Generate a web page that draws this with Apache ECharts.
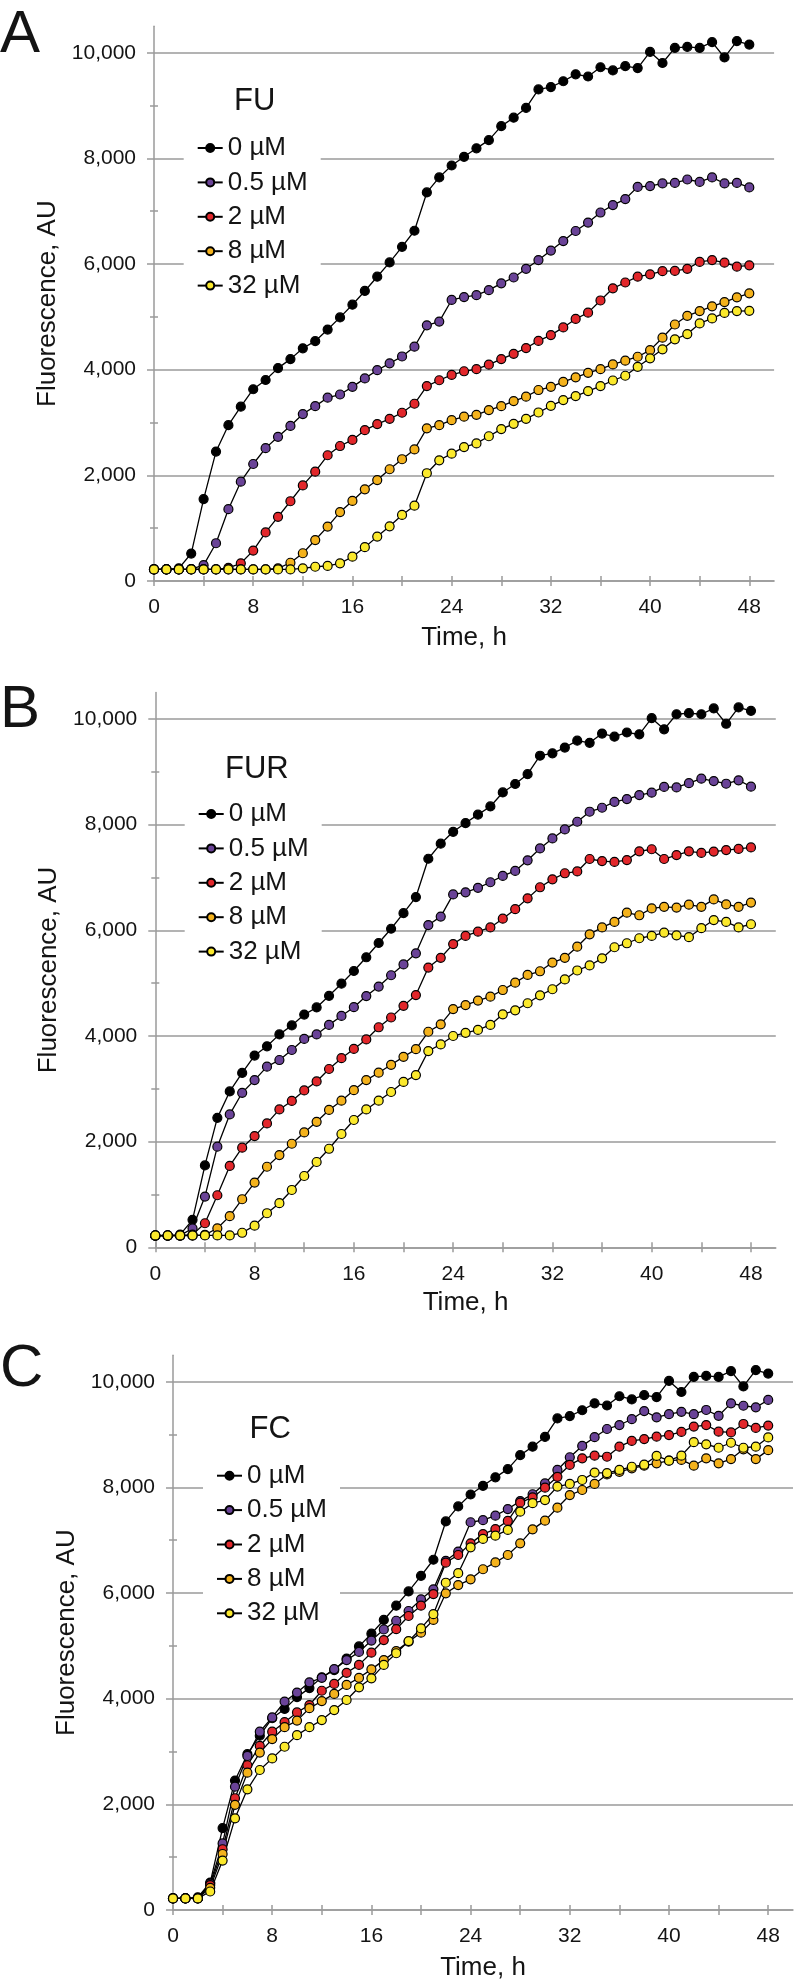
<!DOCTYPE html>
<html>
<head>
<meta charset="utf-8">
<title>Fluorescence time courses</title>
<script src="https://cdn.jsdelivr.net/npm/echarts@6/dist/echarts.min.js"></script>
<style>
  html, body { margin: 0; padding: 0; background: #fff; }
  #chart { width: 796px; height: 1985px; }
</style>
</head>
<body>
<div id="chart"></div>
<script>
// sampling times, h
var hours = [0,1,2,3,4,5,6,7,8,9,10,11,12,13,14,15,16,17,18,19,20,21,22,23,24,
             25,26,27,28,29,30,31,32,33,34,35,36,37,38,39,40,41,42,43,44,45,46,47,48];
var doses = ['0 µM', '0.5 µM', '2 µM', '8 µM', '32 µM'];
var doseColors = ['#000000', '#6a4397', '#e2272b', '#f4b21c', '#fbe92c'];
var yTickLabels = [0, 2000, 4000, 6000, 8000, 10000];
var xTickLabels = [0, 8, 16, 24, 32, 40, 48];

// 0 µM control, same curve in all three panels
var control = [220,220,240,520,1550,2450,2950,3300,3630,3805,4030,4200,4405,4540,4760,4990,5230,5490,5760,6030,6325,6630,7355,7640,7865,
               8030,8190,8345,8610,8770,8955,9305,9350,9460,9590,9550,9725,9665,9745,9710,10015,9805,10090,10110,10090,10200,9910,10220,10155];

// A - FU
var fu05 = [220,220,220,225,300,715,1360,1880,2215,2515,2730,2935,3160,3310,3470,3530,3675,3835,3990,4120,4250,4435,4840,4910,5320,
            5375,5410,5505,5635,5745,5910,6075,6255,6435,6625,6785,6975,7115,7230,7460,7475,7525,7535,7600,7555,7640,7525,7535,7450];
var fu2  = [220,220,220,220,220,220,250,335,575,920,1215,1510,1810,2070,2380,2555,2670,2855,2970,3070,3185,3355,3690,3800,3900,
            3970,4010,4095,4200,4300,4410,4545,4655,4800,4960,5080,5310,5540,5650,5760,5805,5865,5870,5910,6040,6075,6025,5950,5975];
var fu8  = [220,220,220,220,220,220,220,220,220,220,240,345,525,775,1030,1305,1515,1735,1910,2115,2305,2490,2890,2950,3045,
            3110,3145,3235,3310,3405,3490,3615,3675,3770,3855,3940,4010,4100,4170,4245,4370,4605,4855,5020,5110,5200,5280,5370,5445];
var fu32 = [220,220,220,220,220,220,220,220,220,220,220,220,240,270,285,335,460,640,840,1035,1250,1425,2040,2285,2410,
            2535,2605,2740,2875,2975,3070,3190,3315,3425,3500,3595,3690,3795,3885,4055,4215,4385,4575,4675,4875,4970,5075,5110,5115];

// B - FUR
var fur05 = [220,220,220,360,960,1905,2515,2925,3165,3420,3545,3735,3945,4030,4210,4380,4545,4755,4935,5150,5355,5565,6100,6260,6680,
             6720,6805,6910,7030,7125,7325,7550,7740,7910,8055,8245,8320,8430,8485,8560,8605,8715,8705,8785,8870,8825,8775,8840,8720];
var fur2  = [220,220,220,240,455,985,1540,1885,2105,2345,2610,2770,2970,3140,3375,3580,3755,3935,4165,4350,4570,4775,5295,5480,5740,
             5895,5975,6055,6220,6400,6605,6815,6965,7080,7115,7350,7310,7295,7330,7495,7535,7350,7425,7495,7465,7490,7520,7540,7570];
var fur8  = [220,220,220,220,235,360,590,910,1225,1525,1745,1960,2175,2375,2600,2775,2975,3165,3305,3455,3605,3750,4080,4220,4510,
             4585,4670,4745,4870,5010,5155,5225,5390,5480,5690,5925,6055,6160,6335,6285,6415,6445,6430,6485,6445,6585,6490,6445,6525];
var fur32 = [225,225,225,225,225,225,225,275,410,645,835,1085,1350,1615,1865,2145,2410,2610,2775,2940,3130,3260,3715,3840,4000,
             4060,4115,4210,4410,4485,4620,4770,4885,5070,5240,5335,5470,5680,5755,5850,5895,5955,5905,5870,6040,6195,6160,6055,6115];

// C - FC
var fc05 = [220,220,220,500,1260,2335,2915,3375,3645,3945,4115,4310,4395,4560,4730,4885,5100,5310,5475,5660,5880,6070,6610,6785,7340,
            7380,7465,7590,7740,7870,8075,8330,8570,8785,8950,9105,9180,9290,9445,9325,9385,9430,9385,9465,9355,9590,9545,9515,9655];
var fc2  = [220,220,220,470,1150,2115,2740,3105,3375,3555,3740,3880,4150,4280,4490,4640,4870,5110,5315,5565,5760,5980,6575,6720,6940,
            7115,7210,7365,7710,7810,7995,8200,8425,8550,8600,8580,8770,8880,8915,8960,8990,9050,9150,9180,9055,9040,9200,9125,9170];
var fc8  = [220,220,220,420,1060,1990,2600,2980,3235,3460,3585,3820,3955,4090,4260,4395,4555,4730,4900,5080,5250,5490,5995,6150,6260,
            6450,6580,6720,6940,7205,7370,7615,7855,7950,8065,8245,8295,8360,8410,8455,8505,8520,8410,8550,8455,8535,8720,8535,8705];
var fc32 = [220,220,220,350,935,1735,2285,2650,2870,3090,3310,3460,3595,3785,3975,4215,4385,4640,4860,5090,5330,5600,6195,6375,6865,
            7025,7085,7195,7540,7700,7760,8015,8065,8140,8280,8270,8330,8390,8430,8595,8505,8600,8855,8815,8750,8845,8750,8770,8945];

var gray = '#9a9a9a';
var ink = '#141414';
var font = '"Liberation Sans", Arial, Helvetica, sans-serif';

var panels = [
  { letter: 'A', name: 'FU',  values: [control, fu05, fu2, fu8, fu32],
    grid: { left: 154, top: 26.3, width: 620.1, height: 554.7 },
    letterTop: 5.5, titleLeft: 234, titleTop: 86, legendLeft: 183.7, legendTop: 129, xGap: 44 },
  { letter: 'B', name: 'FUR', values: [control, fur05, fur2, fur8, fur32],
    grid: { left: 155.3, top: 692.6, width: 620.5, height: 554.7 },
    letterTop: 680.5, titleLeft: 225, titleTop: 753.7, legendLeft: 184.7, legendTop: 795, xGap: 43 },
  { letter: 'C', name: 'FC',  values: [control, fc05, fc2, fc8, fc32],
    grid: { left: 173, top: 1355.3, width: 620.8, height: 554.7 },
    letterTop: 1339, titleLeft: 249.5, titleTop: 1413.7, legendLeft: 203, legendTop: 1456.7, xGap: 45 }
];

function tickAxis(dim, gi, values, len, inside) {
  return {
    gridIndex: gi, type: 'value', min: 0, max: dim === 'x' ? 50 : 10500,
    position: dim === 'x' ? 'bottom' : 'left',
    axisLine: { show: false }, axisLabel: { show: false }, splitLine: { show: false },
    axisTick: { show: true, inside: inside, length: len, customValues: values,
                lineStyle: { color: gray, width: 1.5 } },
    silent: true
  };
}

var xAll = [], yMajor = [], yMinor = [];
for (var h = 0; h <= 48; h += 4) xAll.push(h);
for (var v = 0; v <= 10000; v += 1000) (v % 2000 === 0 ? yMajor : yMinor).push(v);

var option = {
  animation: false,
  backgroundColor: '#fff',
  textStyle: { fontFamily: font, color: ink },
  title: [], legend: [], grid: [], xAxis: [], yAxis: [], series: []
};

panels.forEach(function (p, gi) {
  option.grid.push(p.grid);

  option.title.push({ text: p.letter, left: 0, top: p.letterTop, padding: 0,
    textStyle: { fontFamily: font, fontSize: 60, fontWeight: 'normal', color: ink } });
  option.title.push({ text: p.name, left: p.titleLeft, top: p.titleTop, padding: 0,
    textStyle: { fontFamily: font, fontSize: 31, fontWeight: 'normal', color: ink } });

  option.legend.push({
    orient: 'vertical', left: p.legendLeft, top: p.legendTop, data: doses,
    itemWidth: 25, itemHeight: 10, itemGap: 8.4, padding: [6, 13],
    backgroundColor: '#fff', selectedMode: false,
    textStyle: { fontFamily: font, fontSize: 26, color: ink }
  });

  var xi = option.xAxis.length;
  option.xAxis.push({
    gridIndex: gi, type: 'value', min: 0, max: 50, interval: 8, position: 'bottom',
    axisLine: { lineStyle: { color: gray, width: 1.5 } },
    axisTick: { show: false },
    axisLabel: { fontSize: 21, color: ink, margin: 16, fontFamily: font,
                 formatter: function (val) { return val > 48 ? '' : String(val); } },
    splitLine: { show: false },
    name: 'Time, h', nameLocation: 'middle', nameGap: p.xGap,
    nameTextStyle: { fontSize: 26, color: ink, fontFamily: font }
  });
  option.xAxis.push(tickAxis('x', gi, xAll, 5, false));
  option.xAxis.push(tickAxis('x', gi, xAll, 5, true));

  var yi = option.yAxis.length;
  option.yAxis.push({
    gridIndex: gi, type: 'value', min: 0, max: 10500, interval: 2000, position: 'left',
    axisLine: { show: true, lineStyle: { color: gray, width: 1.5 } },
    axisTick: { show: false },
    axisLabel: { fontSize: 21, color: ink, margin: 18, fontFamily: font,
                 formatter: function (val) { return val > 10000 ? '' : val.toLocaleString('en-US'); } },
    splitLine: { show: true, showMaxLine: false, lineStyle: { color: gray, width: 1.5 } },
    name: 'Fluorescence, AU', nameLocation: 'middle', nameGap: 88,
    nameTextStyle: { fontSize: 26, color: ink, fontFamily: font }
  });
  option.yAxis.push(tickAxis('y', gi, yMajor, 7, false));
  option.yAxis.push(tickAxis('y', gi, yMinor, 4, false));
  option.yAxis.push(tickAxis('y', gi, yMinor, 4, true));

  p.values.forEach(function (vals, j) {
    option.series.push({
      type: 'line', name: doses[j], xAxisIndex: xi, yAxisIndex: yi,
      data: hours.map(function (t, k) { return [t, vals[k]]; }),
      symbol: 'circle', symbolSize: 9,
      itemStyle: { color: doseColors[j], borderColor: '#000', borderWidth: 1.2 },
      lineStyle: { color: '#000', width: 1.3 },
      emphasis: { disabled: true }
    });
  });
});

var chart = echarts.init(document.getElementById('chart'), null, { renderer: 'canvas' });
chart.setOption(option);
</script>
</body>
</html>
